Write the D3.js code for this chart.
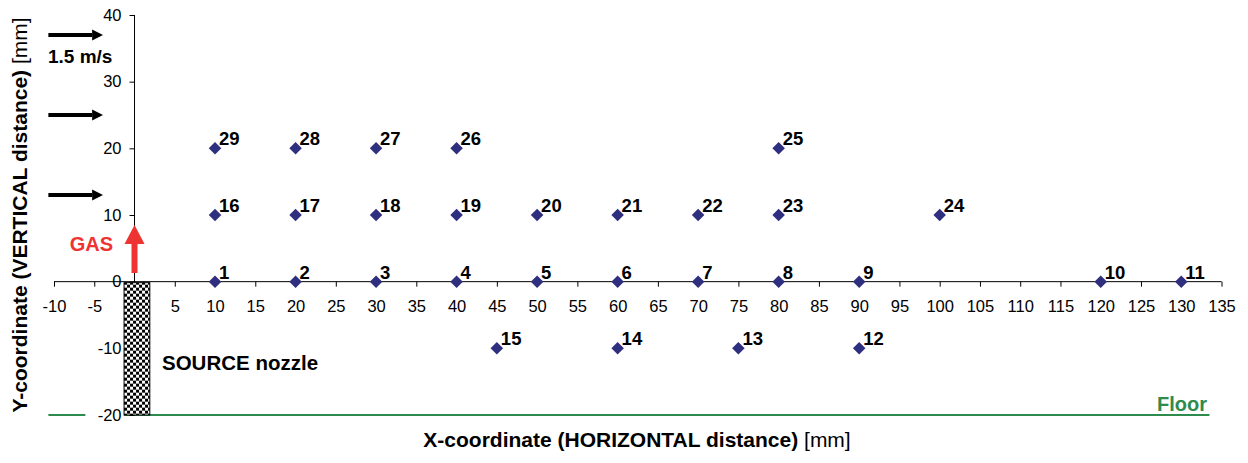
<!DOCTYPE html>
<meta charset="utf-8">
<style>
body { margin: 0; background: #fff; }
svg { font-family: "Liberation Sans", Arial, sans-serif; }
.axis path, .axis line { stroke: #000; }
.axis text { font-size: 16.5px; fill: #000; }
.lbl { font-weight: bold; font-size: 18.5px; }
</style>
<svg width="1248" height="463"></svg>
<script src="https://d3js.org/d3.v7.min.js"></script>
<script>

// measurement points (x, y in mm) with their numbers
var pointIds = [1,2,3,4,5,6,7,8,9,10,11,12,13,14,15,16,17,18,19,20,21,22,23,24,25,26,27,28,29];
var pointX   = [10,20,30,40,50,60,70,80,90,120,130,90,75,60,45,10,20,30,40,50,60,70,80,100,80,40,30,20,10];
var pointY   = [0,0,0,0,0,0,0,0,0,0,0,-10,-10,-10,-10,10,10,10,10,10,10,10,10,10,20,20,20,20,20];

var xTicks = d3.range(-10, 136, 5);
var yTicks = [-20, -10, 0, 10, 20, 30, 40];

// inflow velocity arrows (height in mm), drawn from x0 to x1
var arrowY = [37, 25, 13];
var arrowX = [-10.7, -3.9];

// gas jet arrow and nozzle, floor
var gasArrow = {x: 0, y0: 1.3, y1: 8.5};
var nozzle = {x0: -1.3, x1: 1.9, y0: 0, y1: -20};
var floorX = [-10.7, 133.5], floorY = -20;

var svg = d3.select("svg");

var x = d3.scaleLinear().domain([-10, 135]).range([54, 1221.5]),
    y = d3.scaleLinear().domain([-20, 40]).range([415, 15]);

var green = "#2e8b4e", red = "#ee3333", navy = "#2f2f80";

var defs = svg.append("defs");
var pat = defs.append("pattern")
    .attr("id", "checker")
    .attr("patternUnits", "userSpaceOnUse")
    .attr("width", 6).attr("height", 6)
    .attr("x", x(nozzle.x0)).attr("y", y(nozzle.y0));
pat.append("rect").attr("width", 6).attr("height", 6).attr("fill", "#fff");
pat.append("rect").attr("width", 3).attr("height", 3).attr("fill", "#000");
pat.append("rect").attr("x", 3).attr("y", 3).attr("width", 3).attr("height", 3).attr("fill", "#000");

defs.append("marker")
    .attr("id", "head")
    .attr("viewBox", "0 0 10 10")
    .attr("refX", 0).attr("refY", 5)
    .attr("markerUnits", "userSpaceOnUse")
    .attr("markerWidth", 11).attr("markerHeight", 13)
    .attr("orient", "auto")
  .append("path").attr("d", "M0,0L10,5L0,10Z").attr("fill", "#000");

// floor
svg.append("line")
    .attr("x1", x(floorX[0])).attr("x2", x(floorX[1]))
    .attr("y1", y(floorY)).attr("y2", y(floorY))
    .attr("stroke", green).attr("stroke-width", 2);

// axes
var xAxis = svg.append("g")
    .attr("class", "axis")
    .attr("transform", "translate(0," + y(0) + ")")
    .call(d3.axisBottom(x).tickValues(xTicks).tickSize(5).tickSizeOuter(0).tickPadding(14)
      .tickFormat(function(d) { return d === 0 ? "" : String(d); }));
xAxis.select(".domain").attr("d", "M" + x(-10) + ",0H" + x(135));

var yAxis = svg.append("g")
    .attr("class", "axis")
    .attr("transform", "translate(" + x(0) + ",0)")
    .call(d3.axisLeft(y).tickValues(yTicks).tickSize(5).tickSizeOuter(0).tickPadding(8)
      .tickFormat(function(d) { return String(d); }));
yAxis.select(".domain").attr("d", "M0," + y(40) + "V" + y(-20));
yAxis.selectAll(".tick").filter(function(d) { return d === -20; })
  .insert("rect", "text")
    .attr("x", x(floorX[0]) + 37 - x(0)).attr("y", -3)
    .attr("width", x(nozzle.x0) - x(floorX[0]) - 37).attr("height", 6)
    .attr("fill", "#fff");

// nozzle
svg.append("rect")
    .attr("x", x(nozzle.x0)).attr("y", y(nozzle.y0) + 1)
    .attr("width", x(nozzle.x1) - x(nozzle.x0))
    .attr("height", y(nozzle.y1) - y(nozzle.y0) - 1)
    .attr("fill", "url(#checker)").attr("stroke", "#000").attr("stroke-width", 1);

// velocity arrows
svg.selectAll(".varrow")
  .data(arrowY)
  .enter().append("line")
    .attr("class", "varrow")
    .attr("x1", x(arrowX[0])).attr("x2", x(arrowX[1]) - 11)
    .attr("y1", function(d) { return y(d); }).attr("y2", function(d) { return y(d); })
    .attr("stroke", "#000").attr("stroke-width", 4)
    .attr("marker-end", "url(#head)");

svg.append("text")
    .attr("x", 48).attr("y", 63)
    .attr("font-weight", "bold").attr("font-size", "19px")
    .text("1.5 m/s");

// gas arrow
var gx = x(gasArrow.x), gy0 = y(gasArrow.y0), gy1 = y(gasArrow.y1);
svg.append("rect")
    .attr("x", gx - 3).attr("y", gy1 + 18)
    .attr("width", 6).attr("height", gy0 - gy1 - 18)
    .attr("fill", red);
svg.append("path")
    .attr("d", "M" + (gx - 10) + "," + (gy1 + 19) + "L" + gx + "," + gy1 + "L" + (gx + 10) + "," + (gy1 + 19) + "Z")
    .attr("fill", red);
svg.append("text")
    .attr("x", 113).attr("y", 251)
    .attr("text-anchor", "end")
    .attr("font-weight", "bold").attr("font-size", "20px")
    .attr("fill", red)
    .text("GAS");

// points
var pts = pointIds.map(function(id, i) { return {id: id, x: pointX[i], y: pointY[i]}; });

svg.selectAll(".pt")
  .data(pts)
  .enter().append("path")
    .attr("class", "pt")
    .attr("d", d3.symbol().type(d3.symbolDiamond2).size(100))
    .attr("transform", function(d) { return "translate(" + x(d.x) + "," + y(d.y) + ")"; })
    .attr("fill", navy);

svg.selectAll(".lbl")
  .data(pts)
  .enter().append("text")
    .attr("class", "lbl")
    .attr("x", function(d) { return x(d.x) + 4; })
    .attr("y", function(d) { return y(d.y) - 3; })
    .text(function(d) { return d.id; });

svg.append("text")
    .attr("x", 162).attr("y", 370)
    .attr("font-weight", "bold").attr("font-size", "20.5px")
    .text("SOURCE nozzle");

svg.append("text")
    .attr("x", 1207).attr("y", 411)
    .attr("text-anchor", "end")
    .attr("font-weight", "bold").attr("font-size", "20px")
    .attr("fill", green)
    .text("Floor");

// axis titles
var xt = svg.append("text")
    .attr("x", 637).attr("y", 447)
    .attr("text-anchor", "middle")
    .attr("font-size", "21px");
xt.append("tspan").attr("font-weight", "bold").text("X-coordinate (HORIZONTAL distance) ");
xt.append("tspan").text("[mm]");

var yt = svg.append("text")
    .attr("transform", "translate(27,215) rotate(-90)")
    .attr("text-anchor", "middle")
    .attr("font-size", "21px");
yt.append("tspan").attr("font-weight", "bold").text("Y-coordinate (VERTICAL distance) ");
yt.append("tspan").text("[mm]");

</script>
